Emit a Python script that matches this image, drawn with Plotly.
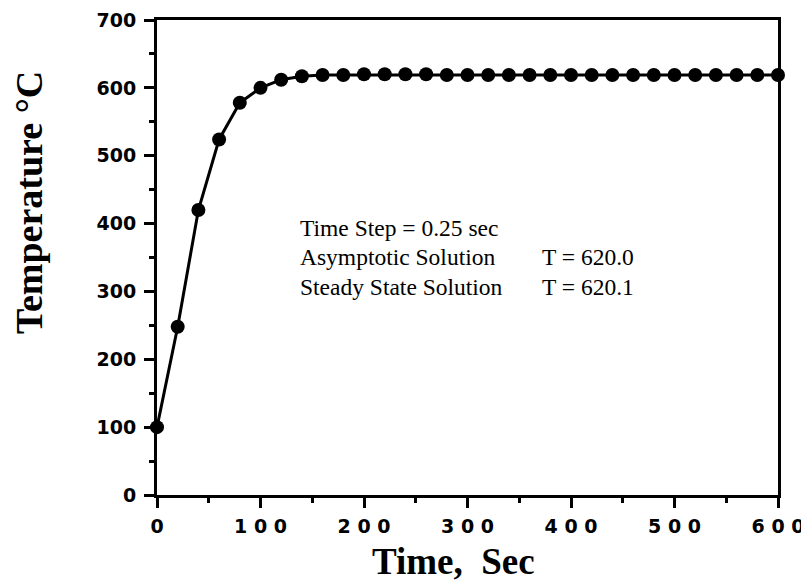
import plotly.graph_objects as go

time_s = [0, 20, 40, 60, 80, 100, 120, 140, 160, 180, 200, 220, 240, 260, 280, 300,
          320, 340, 360, 380, 400, 420, 440, 460, 480, 500, 520, 540, 560, 580, 600]
temperature = [100, 248, 420, 524, 578, 600, 612, 617, 619, 619, 620, 620, 620, 620, 619, 619,
               619, 619, 619, 619, 619, 619, 619, 619, 619, 619, 619, 619, 619, 619, 619]
x_tick_vals = [0, 100, 200, 300, 400, 500, 600]
x_tick_text = ["0", "1 0 0", "2 0 0", "3 0 0", "4 0 0", "5 0 0", "6 0 0"]
y_tick_vals = [0, 100, 200, 300, 400, 500, 600, 700]
notes_left = ["Time Step = 0.25 sec", "Asymptotic Solution", "Steady State Solution"]
notes_right = ["", "T = 620.0", "T = 620.1"]
x_title = "Time,  Sec"
y_title = "Temperature °C"

fig = go.Figure()
fig.add_trace(go.Scatter(
    x=time_s, y=temperature, mode="lines+markers",
    line=dict(color="black", width=3),
    marker=dict(color="black", size=14),
    cliponaxis=False, showlegend=False,
))

serif = "Liberation Serif, Times New Roman, serif"
sans = "DejaVu Sans, Arial, sans-serif"

# the page body adds an 8 px margin, so the figure is 8 px smaller
fig.update_layout(
    width=801, height=575,
    margin=dict(l=149, r=31, t=12, b=88, autoexpand=False),
    paper_bgcolor="white", plot_bgcolor="white",
    xaxis=dict(
        range=[0, 600], tickvals=x_tick_vals, ticktext=x_tick_text,
        showgrid=False, zeroline=False,
        showline=True, linecolor="black", linewidth=3, mirror=True,
        ticks="outside", ticklen=10, tickwidth=2.5, tickcolor="black",
        minor=dict(dtick=50, tick0=0, ticks="outside", ticklen=5, tickwidth=2.5, tickcolor="black"),
        tickfont=dict(family=sans, size=19, color="black", weight="bold"),
        ticklabelstandoff=2,
        automargin=False,
    ),
    yaxis=dict(
        range=[0, 700], tickvals=y_tick_vals,
        showgrid=False, zeroline=False,
        showline=True, linecolor="black", linewidth=3, mirror=True,
        ticks="outside", ticklen=10, tickwidth=2.5, tickcolor="black",
        minor=dict(dtick=50, tick0=0, ticks="outside", ticklen=5, tickwidth=2.5, tickcolor="black"),
        tickfont=dict(family=sans, size=19, color="black", weight="bold"),
        ticklabelstandoff=4,
        automargin=False,
    ),
)

fig.add_annotation(xref="paper", yref="paper", x=0.477, y=-0.141, text="<b>" + x_title + "</b>",
                   showarrow=False, xanchor="center", yanchor="middle",
                   font=dict(family=serif, size=37, color="black"))
fig.add_annotation(xref="paper", yref="paper", x=-0.206, y=0.615, text="<b>" + y_title + "</b>",
                   showarrow=False, xanchor="center", yanchor="middle", textangle=-90,
                   font=dict(family=serif, size=38, color="black"))

y_positions = [393.5, 350.7, 306.5]
for txt_l, txt_r, yy in zip(notes_left, notes_right, y_positions):
    fig.add_annotation(x=136.5, y=yy, xref="x", yref="y", text=txt_l, showarrow=False,
                       xanchor="left", yanchor="middle",
                       font=dict(family=serif, size=23.5, color="black"))
    if txt_r:
        fig.add_annotation(x=370.5, y=yy, xref="x", yref="y", text=txt_r, showarrow=False,
                           xanchor="left", yanchor="middle",
                           font=dict(family=serif, size=23.5, color="black"))

fig.write_html("out.html")
